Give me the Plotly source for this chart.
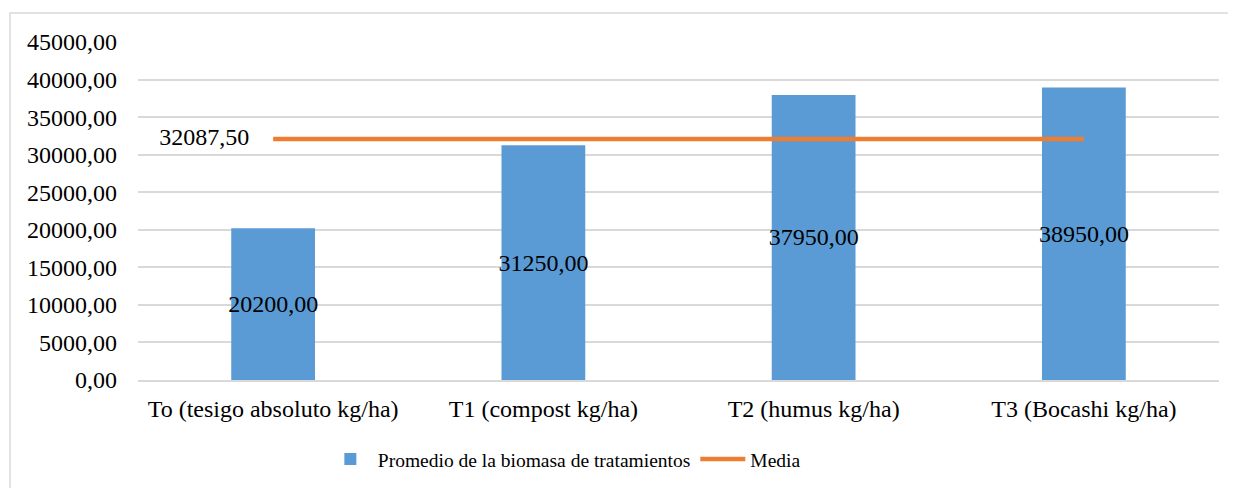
import plotly.graph_objects as go

categories = ["To (tesigo absoluto kg/ha)", "T1 (compost kg/ha)", "T2 (humus kg/ha)", "T3 (Bocashi kg/ha)"]
biomasa = [20200.00, 31250.00, 37950.00, 38950.00]
media = [32087.50, 32087.50, 32087.50, 32087.50]
y_ticks = [0, 5000, 10000, 15000, 20000, 25000, 30000, 35000, 40000, 45000]

def fmt(v):
    return f"{v:.2f}".replace(".", ",")

FONT = "Liberation Serif"
FS = 24
fig = go.Figure()
fig.add_trace(go.Bar(
    x=categories, y=biomasa, name="Promedio de la biomasa de tratamientos",
    marker=dict(color="#5B9BD5", line=dict(width=0)), width=0.31,
    text=[fmt(v) for v in biomasa], textposition="inside", insidetextanchor="middle",
    textangle=0, constraintext="none", cliponaxis=False,
    textfont=dict(family=FONT, size=FS, color="black"),
))
fig.add_trace(go.Scatter(
    x=categories, y=media, name="Media", mode="lines+text",
    line=dict(color="#ED7D31", width=4.5),
    text=[fmt(media[0]) + "    ", "", "", ""], textposition="middle left",
    textfont=dict(family=FONT, size=FS, color="black"),
))
fig.update_layout(
    width=1236, height=488,
    margin=dict(l=130, r=25, t=34, b=116),
    paper_bgcolor="white", plot_bgcolor="white",
    font=dict(family=FONT, size=FS, color="black"),
    showlegend=True,
    legend=dict(orientation="h", x=0.171, xanchor="left", y=-0.235, yanchor="middle",
                font=dict(family=FONT, size=19.5, color="black"), itemwidth=45, tracegroupgap=0),
    bargap=0.69,
    shapes=[dict(type="rect", xref="paper", yref="paper", x0=-0.1184, x1=1.03, y0=-0.4, y1=1.0858,
                 line=dict(color="#d9d9d9", width=1.5), fillcolor="rgba(0,0,0,0)", layer="below")],
)
fig.update_xaxes(showgrid=False, showline=True, linecolor="#d9d9d9", linewidth=1.5,
                 ticks="", ticklabelstandoff=6, tickfont=dict(family=FONT, size=FS, color="black"))
fig.update_yaxes(range=[0, 45000], tickvals=y_ticks, ticktext=[fmt(v) for v in y_ticks],
                 showgrid=True, gridcolor="#d9d9d9", gridwidth=1.5, zeroline=False,
                 showline=False, ticks="", ticklabelstandoff=20,
                 tickfont=dict(family=FONT, size=FS, color="black"))
fig.write_html("out.html")
